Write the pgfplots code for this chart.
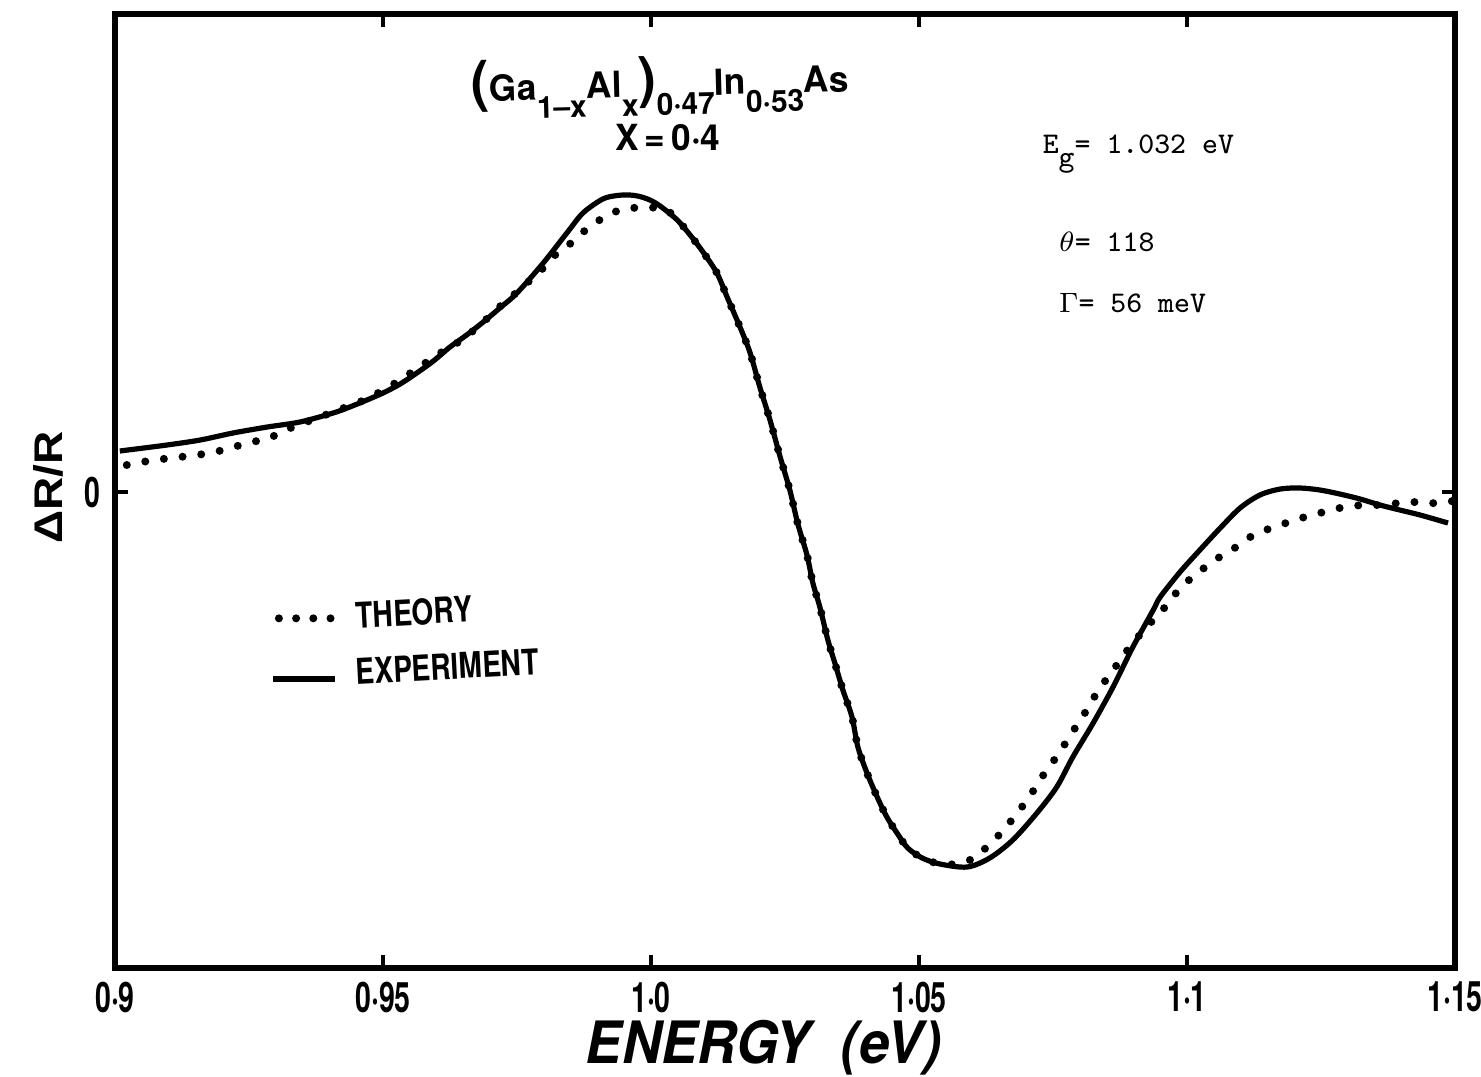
\documentclass[border=0pt]{standalone}
\usepackage{fontspec}
\setmainfont{TeX Gyre Heros}
\newfontfamily\cond[FakeStretch=0.68]{TeX Gyre Heros}
\newfontfamily\legf[FakeStretch=0.79]{TeX Gyre Heros}
\newfontfamily\titf[FakeStretch=0.98]{TeX Gyre Heros}
\newfontfamily\enf[FakeStretch=0.93]{TeX Gyre Heros}
\newfontfamily\ylf[FakeStretch=1.15]{Liberation Sans}
\usepackage{pgfplots}
\pgfplotsset{compat=1.18}
\newcommand\sub[1]{\raisebox{-4.6pt}{\fontsize{7.6}{8}\selectfont #1}}
\newcommand\bigp[1]{{\fontsize{14}{14}\selectfont #1}}

\pgfplotstableread{
x y
0.9009 0.41
0.9097 0.47
0.9159 0.52
0.9220 0.59
0.9284 0.65
0.9345 0.70
0.9407 0.79
0.9438 0.85
0.9470 0.92
0.9500 0.99
0.9532 1.08
0.9563 1.19
0.9594 1.31
0.9625 1.45
0.9656 1.57
0.9687 1.70
0.9718 1.84
0.9750 1.99
0.9799 2.29
0.9843 2.59
0.9873 2.79
0.9910 2.93
0.9937 2.965
0.9960 2.97
0.9979 2.955
0.9998 2.92
1.0017 2.86
1.0049 2.72
1.0073 2.57
1.0097 2.40
1.0123 2.19
1.0142 1.95
1.0166 1.65
1.0185 1.39
1.0203 1.05
1.0222 0.72
1.0241 0.35
1.0259 0.02
1.0274 -0.32
1.0291 -0.63
1.0302 -0.91
1.0315 -1.15
1.0330 -1.48
1.0343 -1.71
1.0358 -1.98
1.0375 -2.25
1.0386 -2.55
1.0403 -2.81
1.0422 -3.05
1.0440 -3.25
1.0459 -3.41
1.0479 -3.56
1.0506 -3.66
1.0539 -3.72
1.0590 -3.75
1.0632 -3.66
1.0675 -3.48
1.0720 -3.21
1.0757 -2.95
1.0787 -2.65
1.0825 -2.31
1.0862 -1.95
1.0899 -1.55
1.0937 -1.18
1.0950 -1.05
1.0987 -0.80
1.1024 -0.58
1.1062 -0.36
1.1099 -0.16
1.1136 -0.03
1.1174 0.03
1.1211 0.04
1.1248 0.02
1.1285 -0.02
1.1323 -0.07
1.1360 -0.13
1.1397 -0.18
1.1435 -0.23
1.1487 -0.31
}\expt

\pgfplotstableread{
x y
0.9022 0.27
0.9062 0.31
0.9104 0.34
0.9153 0.37
0.9194 0.41
0.9248 0.49
0.9289 0.54
0.9313 0.61
0.9407 0.80
0.9470 0.93
0.9494 1.00
0.9532 1.12
0.9601 1.37
0.9638 1.49
0.9677 1.65
0.9715 1.84
0.9750 2.00
0.9799 2.24
0.9825 2.39
0.9851 2.49
0.9871 2.59
0.9892 2.67
0.9912 2.75
0.9937 2.81
0.9959 2.84
0.9989 2.84
1.0021 2.84
1.0045 2.75
1.0073 2.57
1.0097 2.40
1.0123 2.19
1.0142 1.95
1.0166 1.65
1.0185 1.39
1.0203 1.05
1.0222 0.72
1.0241 0.35
1.0259 0.02
1.0274 -0.32
1.0291 -0.63
1.0302 -0.91
1.0315 -1.15
1.0330 -1.48
1.0343 -1.71
1.0358 -1.98
1.0375 -2.25
1.0386 -2.55
1.0403 -2.81
1.0422 -3.05
1.0440 -3.25
1.0459 -3.41
1.0479 -3.56
1.0506 -3.66
1.0539 -3.72
1.0570 -3.72
1.0595 -3.68
1.0614 -3.61
1.0642 -3.47
1.0664 -3.34
1.0692 -3.15
1.0713 -2.99
1.0737 -2.79
1.0759 -2.63
1.0784 -2.42
1.0813 -2.18
1.0834 -1.99
1.0869 -1.73
1.0899 -1.51
1.0940 -1.26
1.0966 -1.11
1.0987 -0.96
1.1020 -0.81
1.1052 -0.68
1.1086 -0.57
1.1118 -0.45
1.1142 -0.39
1.1174 -0.33
1.1207 -0.27
1.1248 -0.21
1.1285 -0.16
1.1328 -0.13
1.1360 -0.13
1.1397 -0.11
1.1429 -0.10
1.1450 -0.11
1.1472 -0.11
1.1496 -0.09
}\theory

\begin{document}
\begin{tikzpicture}
\begin{axis}[
  name=ax,
  scale only axis,
  width=335pt, height=238.5pt,
  xmin=0.9, xmax=1.15, ymin=-4.76, ymax=4.78,
  clip=false,
  axis line style={line width=1.3pt},
  tick align=inside,
  major tick length=3.3pt,
  tick style={line width=1pt, black},
  xtick={0.9,0.95,1.0,1.05,1.1,1.15},
  xticklabels={0·9,0·95,1·0,1·05,1·1,1·15},
  xtick pos=both, xticklabel pos=bottom,
  ytick={0}, yticklabels={0},
  ytick pos=both, yticklabel pos=left,
  ticklabel style={font=\cond\bfseries\fontsize{10.5}{11}\selectfont},
  xlabel={\enf\bfseries\itshape\fontsize{14.6}{16}\selectfont ENERGY\hspace{7.5pt}(eV)},
  xlabel style={at={(axis description cs:0.484,-0.084)}, anchor=center},
  ylabel={\ylf\bfseries\fontsize{10}{11}\selectfont ΔR/R},
  ylabel style={at={(axis description cs:-0.05,0.504)}, anchor=center, rotate=0},
  legend style={draw=none, fill=none, at={(rel axis cs:0.115,0.400)}, anchor=north west,
    font=\legf\bfseries\fontsize{8.9}{10}\selectfont, row sep=-0.5pt,
    inner sep=0pt, nodes={rotate=3}},
  legend cell align=left,
]
\addplot[black, line width=2pt, line cap=round, dash pattern=on 0pt off 4.7pt, smooth, tension=0.5,
  legend image code/.code={\draw[line width=2pt, line cap=round, dash pattern=on 0pt off 4.3pt] (1.5pt,0pt) -- (15pt,0pt); \path (17.5pt,0pt);}]
  table[x=x,y=y] {\theory};
\addlegendentry{THEORY}
\addplot[black, line width=1.3pt, smooth, tension=0.5,
  legend image code/.code={\draw[line width=1.5pt] (0pt,-1pt) -- (15.5pt,-1pt); \path (17.5pt,0pt);}]
  table[x=x,y=y] {\expt};
\addlegendentry{EXPERIMENT}

\node[rotate=1.5, anchor=center] at (rel axis cs:0.4067,0.925)
  {\titf\bfseries\fontsize{9}{10}\selectfont \bigp{(}Ga\sub{1\textendash x}Al\sub{x}\bigp{)}\sub{0·47}In\sub{0·53}As};
\node[anchor=center] at (rel axis cs:0.4127,0.870)
  {\titf\bfseries\fontsize{9}{10}\selectfont X\,=\,0·4};
\node[anchor=west, inner sep=0pt] at (rel axis cs:0.6918,0.853)
  {\ttfamily\fontsize{7.5}{8}\selectfont E\raisebox{-3.2pt}{g}= 1.032 eV};
\node[anchor=west, inner sep=0pt] at (rel axis cs:0.7037,0.761)
  {\ttfamily\fontsize{7.5}{8}\selectfont $\theta$= 118};
\node[anchor=west, inner sep=0pt] at (rel axis cs:0.7037,0.697)
  {\ttfamily\fontsize{7.5}{8}\selectfont $\Gamma$= 56 meV};
\end{axis}
\path (ax.south west) ++(-28.75pt,-27pt) coordinate (bbA);
\path (ax.north east) ++(6.5pt,3.5pt) coordinate (bbB);
\pgfresetboundingbox
\path (bbA) rectangle (bbB);
\end{tikzpicture}
\end{document}
